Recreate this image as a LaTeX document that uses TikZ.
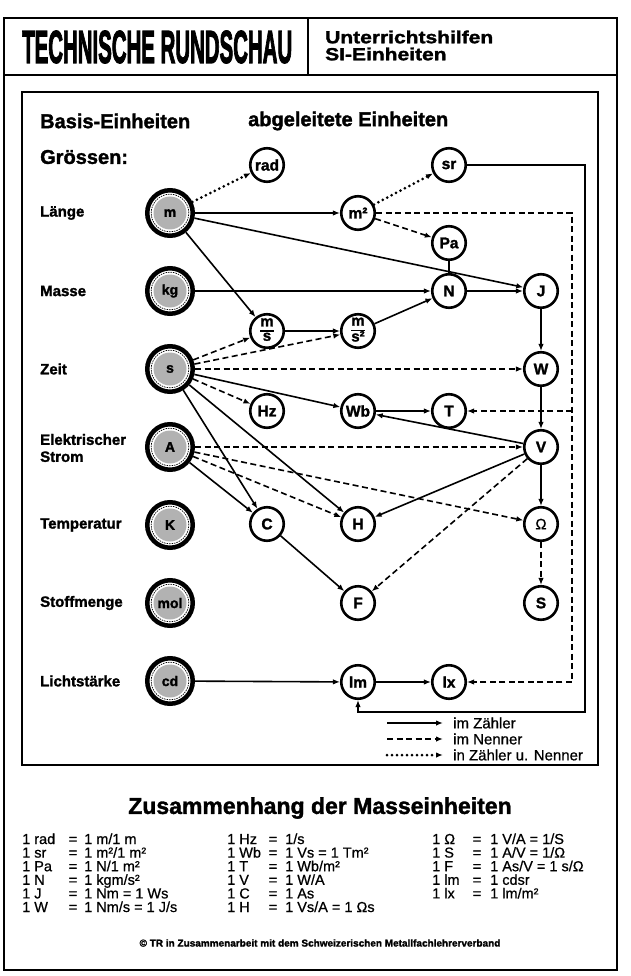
\documentclass[tikz,border=0pt]{standalone}
\usepackage{fontspec}
\setmainfont{Liberation Sans}[BoldFeatures={FakeBold=1.6}]
\newfontfamily\medfont{Liberation Sans}[FakeBold=0.7]
\newfontfamily\blackfont{Liberation Sans}[BoldFeatures={FakeBold=3}]
\usepackage{graphicx}
\usetikzlibrary{arrows.meta}
\newcommand\eqr[7]{%
  \node[eqtext, anchor=base west] (#1l) at (#2,#5) {#6};
  \node[eqtext, anchor=base] (#1e) at (#3,#5) {=};
  \node[eqtext, anchor=base west] (#1r) at (#4,#5) {#7};}
\newcommand\fracnode[2]{{\setlength{\arrayrulewidth}{1.5pt}\renewcommand{\arraystretch}{0.86}\begin{tabular}{@{}c@{}}#1\\\hline #2\end{tabular}}}
\begin{document}
\begin{tikzpicture}[x=1pt,y=-1pt,
  frame/.style={line width=1.4pt},
  basenode/.style={circle, minimum size=45.5pt, inner sep=0pt, draw, line width=4.5pt,
    fill=white, outer sep=2.25pt, font=\bfseries\fontsize{14}{14}\selectfont,
    path picture={\fill[black!30] (path picture bounding box.center) circle (16.5pt);
      \draw[line width=0.7pt, dash pattern=on 1.5pt off 1pt] (path picture bounding box.center) circle (18.8pt);}},
  dnode/.style={circle, draw, line width=2.6pt, minimum size=33.5pt, inner sep=0pt,
    outer sep=1.3pt, fill=white, font=\bfseries\fontsize{15.5}{15.5}\selectfont},
  qty/.style={anchor=west, font=\bfseries\fontsize{15}{17}\selectfont, align=left, inner sep=0pt},
  head/.style={anchor=west, font=\bfseries\fontsize{20}{22}\selectfont, inner sep=0pt},
  conn/.style={line width=1.6pt, -{Latex[length=7pt,width=5.5pt]}},
  dconn/.style={conn, dash pattern=on 6pt off 3.5pt},
  pconn/.style={line width=3pt, line cap=round, dash pattern=on 0pt off 5pt,
    -{Latex[length=7pt,width=5.5pt]}},
  legend/.style={anchor=west, font=\medfont\fontsize{15}{15}\selectfont, inner sep=0pt},
  eqtext/.style={font=\medfont\fontsize{14.5}{14.5}\selectfont, inner sep=0pt}]
\useasboundingbox (0,0) rectangle (630,976);
% frames
\draw[frame] (4,18) rectangle (617,970);
\draw[frame] (4,75) -- (617,75);
\draw[frame] (308,18) -- (308,75);
\draw[frame] (22,92) rectangle (598,765);
% header
\node[inner sep=0pt, anchor=west] (tr) at (22,47)
  {\scalebox{0.444}[1]{\blackfont\bfseries\fontsize{46}{46}\selectfont TECHNISCHE RUNDSCHAU}};
\node[inner sep=0pt, anchor=west] (uh) at (325,37) {\scalebox{1.2}[1]{\bfseries\fontsize{17.5}{17.5}\selectfont Unterrichtshilfen}};
\node[inner sep=0pt, anchor=west] (si) at (325,54) {\scalebox{1.2}[1]{\bfseries\fontsize{17.5}{17.5}\selectfont SI-Einheiten}};
% headings
\node[head] (hb) at (40,121) {Basis-Einheiten};
\node[head] (ha) at (248,121) {abgeleitete Einheiten};
\node[head] (hg) at (40,157) {Grössen:};
% quantities
\node[qty] (q1) at (40,213) {Länge};
\node[qty] (q2) at (40,291) {Masse};
\node[qty] (q3) at (40,369) {Zeit};
\node[qty] (q4) at (40,448) {Elektrischer\\Strom};
\node[qty] (q5) at (40,525) {Temperatur};
\node[qty] (q6) at (40,603) {Stoffmenge};
\node[qty] (q7) at (40,681) {Lichtstärke};
% base units
\node[basenode] (m) at (170,213) {m};
\node[basenode] (kg) at (170,291) {kg};
\node[basenode] (s) at (170,369) {s};
\node[basenode] (A) at (170,447) {A};
\node[basenode] (K) at (170,525) {K};
\node[basenode] (mol) at (170,603) {mol};
\node[basenode] (cd) at (170,681) {cd};
% derived units
\node[dnode] (rad) at (267,165) {rad};
\node[dnode] (sr) at (449,165) {sr};
\node[dnode] (m2) at (358,213) {m²};
\node[dnode] (Pa) at (449,243) {Pa};
\node[dnode] (N) at (449,291) {N};
\node[dnode] (J) at (541,291) {J};
\node[dnode, font=\bfseries\fontsize{15}{15}\selectfont] (ms) at (267,331) {\fracnode{m}{s}};
\node[dnode, font=\bfseries\fontsize{15}{15}\selectfont] (ms2) at (358,331) {\fracnode{m}{s²}};
\node[dnode] (W) at (541,369) {W};
\node[dnode] (Hz) at (267,411) {Hz};
\node[dnode] (Wb) at (358,411) {Wb};
\node[dnode] (T) at (449,411) {T};
\node[dnode] (V) at (541,447) {V};
\node[dnode] (C) at (267,524) {C};
\node[dnode] (H) at (358,524) {H};
\node[dnode, font=\medfont\fontsize{15}{15}\selectfont] (Om) at (541,524) {Ω};
\node[dnode] (F) at (358,603) {F};
\node[dnode] (S) at (541,603) {S};
\node[dnode] (lm) at (358,682) {lm};
\node[dnode] (lx) at (449,682) {lx};
% routing coordinates
\coordinate (c1) at (585,165);
\coordinate (c2) at (585,712);
\coordinate (c3) at (358,712);
\coordinate (d1) at (572,213);
\coordinate (d2) at (572,682);
\coordinate (d3) at (572,411);
% solid connectors
\draw[conn] (m) -- (m2);
\draw[conn] (m) -- (J);
\draw[conn] (m) -- (ms);
\draw[conn] (kg) -- (N);
\draw[conn] (N) -- (J);
\draw[conn] (ms) -- (ms2);
\draw[conn] (ms2) -- (N);
\draw[conn] (J) -- (W);
\draw[conn] (W) -- (V);
\draw[conn] (s) -- (Wb);
\draw[conn] (s) -- (H);
\draw[conn] (s) -- (C);
\draw[conn] (Wb) -- (T);
\draw[conn] (V) -- (Wb);
\draw[conn] (V) -- (H);
\draw[conn] (V) -- (Om);
\draw[conn] (A) -- (C);
\draw[conn] (C) -- (F);
\draw[conn] (cd) -- (lm);
\draw[conn] (lm) -- (lx);
\draw[conn] (sr) -- (c1) -- (c2) -- (c3) -- (lm);
\draw[line width=1.6pt] (Pa) -- (N);
% dashed connectors
\draw[dconn] (m2) -- (Pa);
\draw[dconn] (m2) -- (d1) -- (d2) -- (lx);
\draw[dconn] (d3) -- (T);
\draw[dconn] (s) -- (ms);
\draw[dconn] (s) -- (ms2);
\draw[dconn] (s) -- (W);
\draw[dconn] (s) -- (Hz);
\draw[dconn] (A) -- (V);
\draw[dconn] (A) -- (H);
\draw[dconn] (A) -- (Om);
\draw[dconn] (V) -- (F);
\draw[dconn] (Om) -- (S);
% dotted connectors
\draw[pconn] (m) -- (rad);
\draw[pconn] (m2) -- (sr);
% legend
\coordinate (la1) at (387,723); \coordinate (lb1) at (443,723);
\coordinate (la2) at (387,739); \coordinate (lb2) at (443,739);
\coordinate (la3) at (387,755); \coordinate (lb3) at (443,755);
\draw[conn] (la1) -- (lb1);
\draw[dconn] (la2) -- (lb2);
\draw[pconn] (la3) -- (lb3);
\node[legend] (lt1) at (453,723) {im Zähler};
\node[legend] (lt2) at (453,739) {im Nenner};
\node[legend] (lt3) at (453,755) {in Zähler u. Nenner};
% bottom table
\node[font=\bfseries\fontsize{23}{23}\selectfont, inner sep=0pt] (zt) at (320,808) {Zusammenhang der Masseinheiten};
\eqr{a1}{22}{73}{84}{844}{1 rad}{1 m/1 m}
\eqr{a2}{22}{73}{84}{857.6}{1 sr}{1 m²/1 m²}
\eqr{a3}{22}{73}{84}{871.2}{1 Pa}{1 N/1 m²}
\eqr{a4}{22}{73}{84}{884.8}{1 N}{1 kgm/s²}
\eqr{a5}{22}{73}{84}{898.4}{1 J}{1 Nm = 1 Ws}
\eqr{a6}{22}{73}{84}{912}{1 W}{1 Nm/s = 1 J/s}
\eqr{b1}{227}{273}{285}{844}{1 Hz}{1/s}
\eqr{b2}{227}{273}{285}{857.6}{1 Wb}{1 Vs = 1 Tm²}
\eqr{b3}{227}{273}{285}{871.2}{1 T}{1 Wb/m²}
\eqr{b4}{227}{273}{285}{884.8}{1 V}{1 W/A}
\eqr{b5}{227}{273}{285}{898.4}{1 C}{1 As}
\eqr{b6}{227}{273}{285}{912}{1 H}{1 Vs/A = 1 Ωs}
\eqr{c1}{432}{477}{490}{844}{1 Ω}{1 V/A = 1/S}
\eqr{c2}{432}{477}{490}{857.6}{1 S}{1 A/V = 1/Ω}
\eqr{c3}{432}{477}{490}{871.2}{1 F}{1 As/V = 1 s/Ω}
\eqr{c4}{432}{477}{490}{884.8}{1 lm}{1 cdsr}
\eqr{c5}{432}{477}{490}{898.4}{1 lx}{1 lm/m²}
\node[font=\bfseries\fontsize{10}{10}\selectfont, inner sep=0pt] (cp) at (320,943) {© TR in Zusammenarbeit mit dem Schweizerischen Metallfachlehrerverband};
\end{tikzpicture}
\end{document}
